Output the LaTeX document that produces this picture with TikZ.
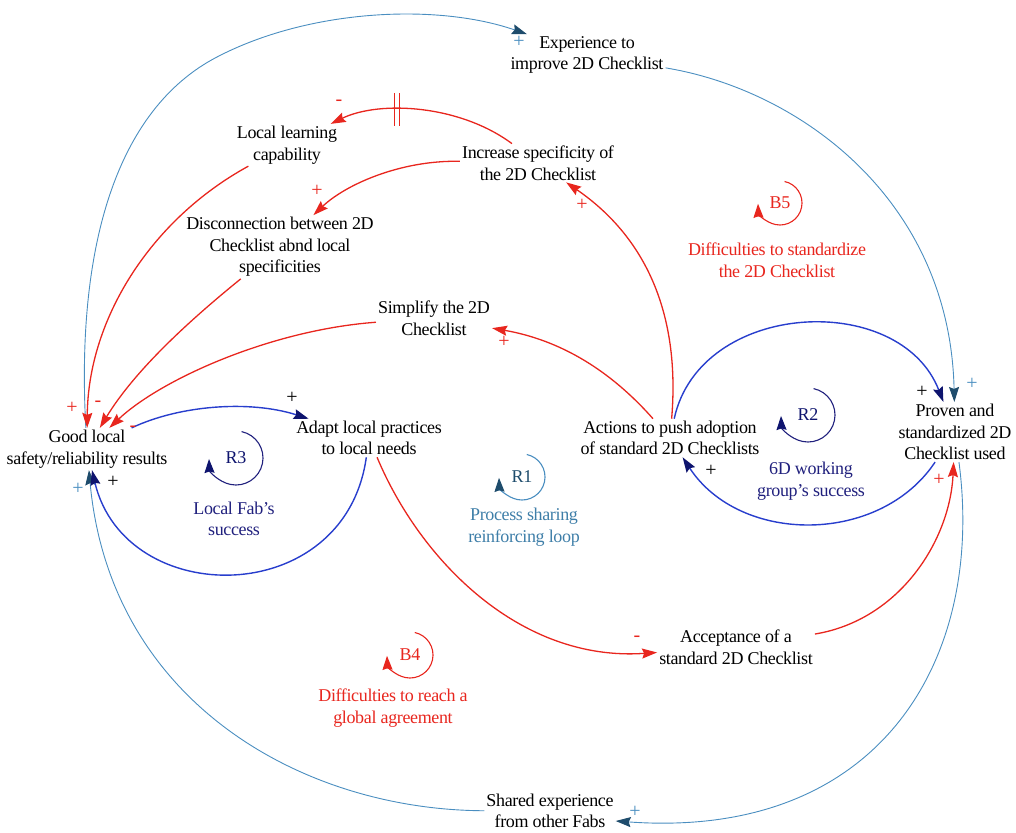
\documentclass[tikz,border=0pt]{standalone}
\usepackage{fontspec}
\setmainfont{Liberation Serif}[LetterSpace=-2]
\usetikzlibrary{arrows.meta}

\definecolor{redc}{RGB}{232,38,30}
\definecolor{bluec}{RGB}{40,62,205}
\definecolor{navyc}{RGB}{14,20,110}
\definecolor{navytext}{RGB}{32,32,125}
\definecolor{steelc}{RGB}{74,142,192}
\definecolor{slatec}{RGB}{30,76,108}
\definecolor{rtext}{RGB}{62,126,168}

% loop marker: name, centre, line colour, head colour, radius, label
\newcommand\loopsym[6]{%
  \node[looplbl, text=#4] (#1) at (#2) {#6};
  \begin{scope}[shift={(#2)}]
    \draw[draw=#3, line width=1.1pt, -{Stealth[length=14pt,width=10pt,inset=1.5pt,color=#4]}]
      (78:#5) arc[start angle=78, end angle=-178, radius=#5];
  \end{scope}}

\begin{document}
\begin{tikzpicture}[x=1pt, y=-1pt,
  every node/.style={font=\fontsize{18}{21.5}\selectfont, align=center, inner sep=2pt},
  var/.style={text=black},
  looplbl/.style={font=\fontsize{18}{21.5}\selectfont},
  looptxt/.style={font=\fontsize{18}{21.5}\selectfont},
  pol/.style={font=\fontsize{20}{20}\selectfont, inner sep=0pt},
  redlink/.style={draw=redc, line width=1.3pt,
    -{Stealth[length=15pt,width=10pt,inset=2pt,color=redc]}},
  bluelink/.style={draw=bluec, line width=1.4pt,
    -{Stealth[length=15pt,width=10pt,inset=2pt,color=navyc]}},
  steellink/.style={draw=steelc, line width=0.9pt,
    -{Stealth[length=15pt,width=10pt,inset=2pt,color=slatec]}}]

\useasboundingbox (0,0) rectangle (1016,832);

% variables
\node[var] (exp)    at (587,55)  {Experience to\\improve 2D Checklist};
\node[var] (llc)    at (287,145) {Local learning\\capability};
\node[var] (inc)    at (538,163) {Increase specificity of\\the 2D Checklist};
\node[var] (dis)    at (280,247) {Disconnection between 2D\\Checklist abnd local\\specificities};
\node[var] (simp)   at (434,318) {Simplify the 2D\\Checklist};
\node[var] (good)   at (87,449)  {Good local\\safety/reliability results};
\node[var] (adapt)  at (369,438) {Adapt local practices\\to local needs};
\node[var] (act)    at (670,438) {Actions to push adoption\\of standard 2D Checklists};
\node[var] (proven) at (955,432) {Proven and\\standardized 2D\\Checklist used};
\node[var] (acc)    at (736,647) {Acceptance of a\\standard 2D Checklist};
\node[var] (shared) at (550,811) {Shared experience\\from other Fabs};

% outer process-sharing loop
\draw[steellink] (good) .. controls (76,250) and (115,110) .. (217,57)
  .. controls (309,9) and (437,3) .. (exp);
\draw[steellink] (exp) .. controls (800,90) and (950,200) .. (proven);
\draw[steellink] (proven) .. controls (985,660) and (880,840) .. ([yshift=-10pt]shared.east);
\draw[steellink] (shared) .. controls (300,810) and (110,700) .. (good);

% red links
\draw[redlink] (inc) .. controls (460,105) and (380,100) .. coordinate[pos=0.62] (delay) (llc);
\draw[redc, line width=1.2pt] ([xshift=-2.5pt,yshift=16pt]delay) -- ([xshift=-2.5pt,yshift=-17pt]delay);
\draw[redc, line width=1.2pt] ([xshift=2.5pt,yshift=16pt]delay) -- ([xshift=2.5pt,yshift=-17pt]delay);
\draw[redlink] (inc) .. controls (400,160) and (345,185) .. (dis);
\draw[redlink] (llc) .. controls (150,220) and (88,320) .. (good);
\draw[redlink] (dis) .. controls (190,320) and (135,370) .. (good);
\draw[redlink] (simp) .. controls (270,330) and (160,380) .. (good);
\draw[redlink] (act) .. controls (680,320) and (650,240) .. (inc);
\draw[redlink] (act) .. controls (610,370) and (560,340) .. (simp);
\draw[redlink] (adapt) .. controls (420,560) and (520,662) .. (acc);
\draw[redlink] (acc) .. controls (900,620) and (950,540) .. (proven);

% blue links
\draw[bluelink] (good) .. controls (180,405) and (250,400) .. (adapt);
\draw[bluelink] (adapt) .. controls (345,610) and (125,610) .. (good);
\draw[bluelink] (act) .. controls (700,300) and (900,290) .. (proven);
\draw[bluelink] (proven) .. controls (880,545) and (740,545) .. (act);

% polarities
\node[pol, text=steelc] (p1)  at (519,42)  {+};
\node[pol, text=redc]   (p2)  at (339,103) {-};
\node[pol, text=redc]   (p3)  at (317,191) {+};
\node[pol, text=redc]   (p4)  at (582,205) {+};
\node[pol, text=redc]   (p5)  at (504,342) {+};
\node[pol, text=redc]   (p6)  at (72,408)  {+};
\node[pol, text=redc]   (p7)  at (98,404)  {-};
\node[pol, text=redc]   (p8)  at (133,429) {-};
\node[pol, text=black]  (p9)  at (292,398) {+};
\node[pol, text=steelc] (p10) at (78,489)  {+};
\node[pol, text=black]  (p11) at (113,482) {+};
\node[pol, text=black]  (p12) at (922,392) {+};
\node[pol, text=steelc] (p13) at (972,384) {+};
\node[pol, text=black]  (p14) at (711,471) {+};
\node[pol, text=redc]   (p15) at (939,480) {+};
\node[pol, text=redc]   (p16) at (637,639) {-};
\node[pol, text=steelc] (p17) at (635,812) {+};

% loop markers and names
\loopsym{b5}{780,203}{redc}{redc}{22pt}{B5}
\node[looptxt, text=redc] (b5t) at (777,260) {Difficulties to standardize\\the 2D Checklist};

\loopsym{r2}{808,415}{navytext}{navyc}{27pt}{R2}
\node[looptxt, text=navytext] (r2t) at (811,481) {6D working\\group's success};

\loopsym{r3}{236,458}{navytext}{navyc}{27pt}{R3}
\node[looptxt, text=navytext] (r3t) at (234,519) {Local Fab's\\success};

\loopsym{r1}{522,477}{steelc}{slatec}{23pt}{R1}
\node[looptxt, text=rtext] (r1t) at (524,527) {Process sharing\\reinforcing loop};

\loopsym{b4}{410,655}{redc}{redc}{23pt}{B4}
\node[looptxt, text=redc] (b4t) at (393,708) {Difficulties to reach a\\global agreement};

\end{tikzpicture}
\end{document}
